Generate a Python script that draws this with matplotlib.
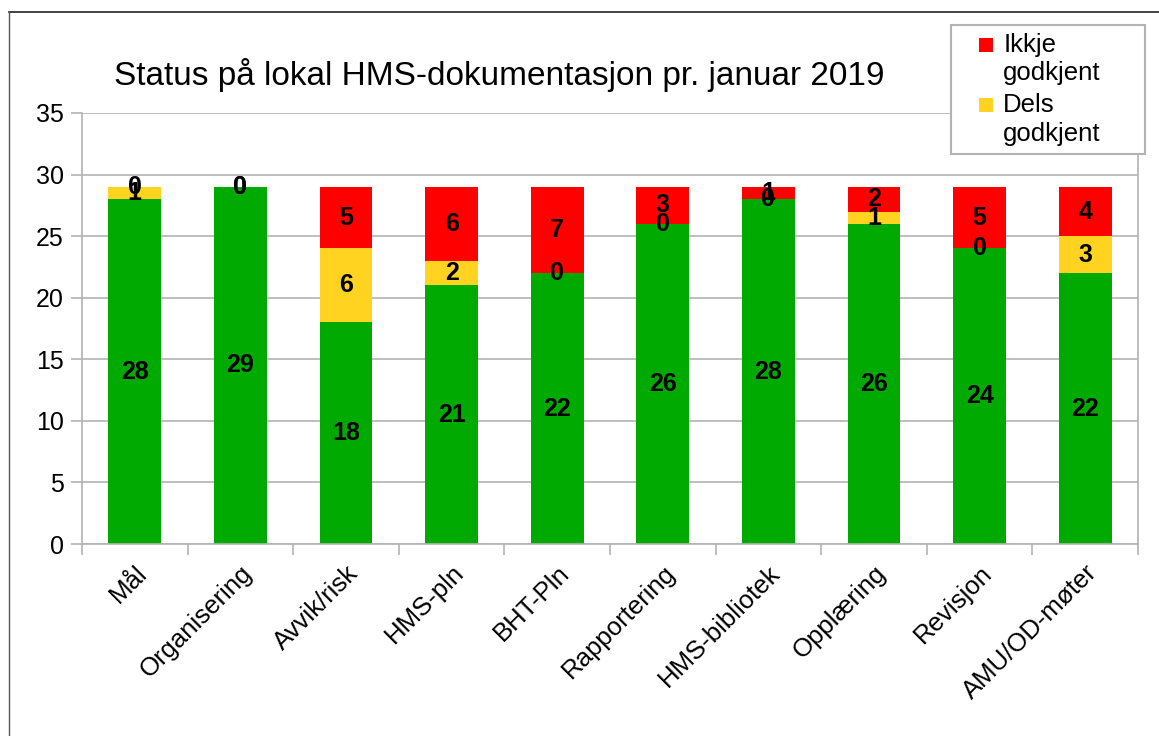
import matplotlib
matplotlib.use("Agg")
import matplotlib.pyplot as plt
from matplotlib.patches import Patch, Rectangle
from matplotlib.lines import Line2D
from matplotlib.legend_handler import HandlerPatch
import numpy as np

plt.rcParams['font.family'] = ['Liberation Sans', 'DejaVu Sans']

categories = ["Mål", "Organisering", "Avvik/risk", "HMS-pln", "BHT-Pln",
              "Rapportering", "HMS-bibliotek", "Opplæring", "Revisjon", "AMU/OD-møter"]
godkjent = [28, 29, 18, 21, 22, 26, 28, 26, 24, 22]
dels_godkjent = [1, 0, 6, 2, 0, 0, 0, 1, 0, 3]
ikkje_godkjent = [0, 0, 5, 6, 7, 3, 1, 2, 5, 4]
title = "Status på lokal HMS-dokumentasjon pr. januar 2019"
yticks = [0, 5, 10, 15, 20, 25, 30, 35]

c_green = "#00aa00"
c_yellow = "#ffd320"
c_red = "#ff0000"
grid_c = "#b3b3b3"

W, H = 1159, 736
fig = plt.figure(figsize=(W / 100, H / 100), dpi=100)
ax = fig.add_axes([82 / W, 1 - 544 / H, (1138 - 82) / W, (544 - 113) / H])

x = np.arange(len(categories))
g = np.array(godkjent)
d = np.array(dels_godkjent)
r = np.array(ikkje_godkjent)
bw = 0.5
ax.bar(x, g, bw, color=c_green, zorder=2)
ax.bar(x, d, bw, bottom=g, color=c_yellow, zorder=2)
ax.bar(x, r, bw, bottom=g + d, color=c_red, zorder=2)

lab_kw = dict(ha="center", va="center", fontsize=18, fontweight="bold", color="black", zorder=5)
for i in range(len(categories)):
    ax.text(x[i], g[i] / 2, str(g[i]), **lab_kw)
    ax.text(x[i], g[i] + d[i] / 2, str(d[i]), **lab_kw)
    ax.text(x[i], g[i] + d[i] + r[i] / 2, str(r[i]), **lab_kw)

ax.set_xlim(-0.5, len(categories) - 0.5)
ax.set_ylim(0, 35)
ax.set_yticks(yticks)
ax.yaxis.grid(True, color=grid_c, linewidth=1.2, zorder=0)
ax.set_axisbelow(True)
for s in ["left", "right", "bottom"]:
    ax.spines[s].set_color(grid_c)
    ax.spines[s].set_linewidth(1.2)
ax.spines["top"].set_visible(False)
ax.tick_params(axis="y", length=8, width=1.2, color=grid_c, labelsize=18, pad=5)

ax.set_xticks(x)
ax.set_xticklabels(categories, rotation=45, ha="right", va="top",
                   rotation_mode="anchor", fontsize=18.5)
ax.tick_params(axis="x", which="major", length=0, pad=12)
ax.set_xticks(np.arange(-0.5, len(categories)), minor=True)
ax.tick_params(axis="x", which="minor", length=8, width=1.2, color=grid_c)

fig.text(499 / W, 1 - 75 / H, title, ha="center", va="center", fontsize=24)


def square_patch(legend, orig_handle, xdescent, ydescent, width, height, fontsize):
    s = 10.0  # points
    return Rectangle((-xdescent + width - s, -ydescent + (height - s) / 2 + 10.5), s, s)


handles = [Patch(facecolor=c_red), Patch(facecolor=c_yellow)]
leg = fig.legend(handles, ["Ikkje\ngodkjent", "Dels\ngodkjent"],
                 loc="upper left", bbox_to_anchor=(951 / W, 1 - 155 / H, 194 / W, 130 / H),
                 mode="expand", framealpha=1.0,
                 fontsize=18.5, frameon=True, fancybox=False, borderpad=0.3,
                 handlelength=1.33, handleheight=0.6, handletextpad=0.4,
                 labelspacing=0.3, borderaxespad=0,
                 handler_map={Patch: HandlerPatch(patch_func=square_patch)})
leg.get_frame().set_edgecolor(grid_c)
leg.get_frame().set_linewidth(1.5)
leg.set_zorder(10)
for t in leg.get_texts():
    t.set_linespacing(1.25)

fig.add_artist(Line2D([9 / W, 1], [1 - 12 / H, 1 - 12 / H], color="#222222", linewidth=1.2,
                      transform=fig.transFigure))
fig.add_artist(Line2D([9 / W, 9 / W], [0, 1 - 12 / H], color="#555555", linewidth=1.0,
                      transform=fig.transFigure))

fig.savefig("out.png", dpi=100)
